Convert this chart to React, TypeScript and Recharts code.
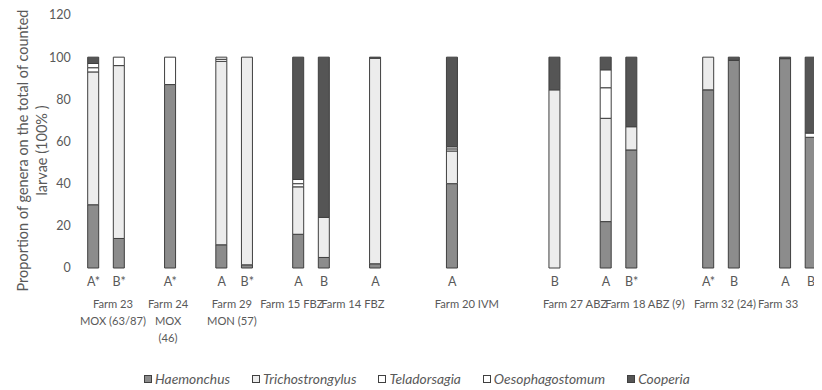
import React from "react";
import { BarChart, Bar, XAxis, YAxis, Legend } from "recharts";

// slot index -> sample label ("" = empty gap slot)
const slotLabels = ["A*", "B*", "", "A*", "", "A", "B*", "", "A", "B", "", "A", "", "", "A", "", "", "", "B", "", "A", "B*", "", "", "A*", "B", "", "A", "B"];

const haemonchus = [30, 14, null, 87, null, 11, 1.5, null, 16, 5, null, 2, null, null, 40, null, null, null, 0, null, 22, 56, null, null, 84.5, 98.5, null, 99.3, 62];
const trichostrongylus = [63, 82, null, 0, null, 87, 98.5, null, 22.5, 19, null, 97.5, null, null, 15.5, null, null, null, 84.5, null, 49, 11, null, null, 15.5, 0, null, 0, 0];
const teladorsagia = [2, 4, null, 13, null, 1, 0, null, 1.5, 0, null, 0, null, null, 1, null, null, null, 0, null, 14.5, 0, null, null, 0, 0, null, 0, 2];
const oesophagostomum = [2, 0, null, 0, null, 1, 0, null, 2, 0, null, 0, null, null, 1, null, null, null, 0, null, 8.5, 0, null, null, 0, 0, null, 0, 0];
const cooperia = [3, 0, null, 0, null, 0, 0, null, 58, 76, null, 0.5, null, null, 42.5, null, null, null, 15.5, null, 6, 33, null, null, 0, 1.5, null, 0.7, 36];

const farmLines = [
  ["Farm 23", "MOX (63/87)"],
  ["Farm 24", "MOX", "(46)"],
  ["Farm 29", "MON (57)"],
  ["Farm 15 FBZ"],
  ["Farm 14 FBZ"],
  ["Farm 20 IVM"],
  ["Farm 27 ABZ"],
  ["Farm 18 ABZ (9)"],
  ["Farm 32 (24)"],
  ["Farm 33"],
];
const farmTickSlots = [0.76, 2.91, 5.4, 7.74, 10.12, 14.57, 18.79, 21.52, 24.64, 26.72];

const yTicks = [0, 20, 40, 60, 80, 100, 120];
const yTitle = ["Proportion of genera on the total of counted", "larvae (100% )"];

const seriesNames = ["Haemonchus", "Trichostrongylus", "Teladorsagia", "Oesophagostomum", "Cooperia"];
const seriesValues = [haemonchus, trichostrongylus, teladorsagia, oesophagostomum, cooperia];
const seriesFill = ["#8c8c8c", "#ececec", "#ffffff", "#ffffff", "#555555"];

const data = slotLabels.map((label, i) => {
  const row: any = { slot: i, label };
  seriesNames.forEach((n, k) => {
    row[n] = seriesValues[k][i];
  });
  return row;
});

const labeledSlots = slotLabels.map((l, i) => (l ? i : -1)).filter((i) => i >= 0);

const FONT = "Lato, 'Open Sans', sans-serif";
const TEXT = "#595959";

const FarmTick = (props: any) => {
  const { x, y, payload } = props;
  const idx = farmTickSlots.indexOf(payload.value);
  const lines = farmLines[idx] || [];
  return (
    <text x={x} y={y} textAnchor="middle" fill={TEXT} fontSize={11.2} fontFamily={FONT}>
      {lines.map((l, k) => (
        <tspan key={k} x={x} dy={k === 0 ? "0.71em" : 17}>
          {l}
        </tspan>
      ))}
    </text>
  );
};

const YTitle = (props: any) => {
  const vb = props.viewBox || {};
  const cy = vb.y + vb.height / 2 + 9;
  const xs = [14, 33];
  return (
    <g>
      {yTitle.map((t, i) => (
        <text
          key={i}
          x={xs[i]}
          y={cy}
          transform={`rotate(-90, ${xs[i]}, ${cy})`}
          textAnchor="middle"
          dominantBaseline="central"
          fill={TEXT}
          fontSize={14.5}
          fontFamily={FONT}
        >
          {t}
        </text>
      ))}
    </g>
  );
};

const LegendContent = (props: any) => {
  const payload = [...(props.payload || [])].sort(
    (a: any, b: any) => seriesNames.indexOf(a.value) - seriesNames.indexOf(b.value)
  );
  return (
    <div
      style={{
        display: "flex",
        alignItems: "center",
        fontFamily: FONT,
        fontStyle: "italic",
        fontSize: 13.8,
        color: TEXT,
        whiteSpace: "nowrap",
      }}
    >
      {payload.map((e: any, i: number) => (
        <span key={i} style={{ display: "inline-flex", alignItems: "center", marginRight: 22 }}>
          <span
            style={{
              width: 6,
              height: 6,
              background: e.color,
              border: "1px solid #404040",
              marginRight: 3,
              display: "inline-block",
            }}
          />
          {e.value}
        </span>
      ))}
    </div>
  );
};

export default function App() {
  return (
    <BarChart
      width={814}
      height={382}
      data={data}
      margin={{ top: 7, right: 3.3, bottom: 0, left: 32.7 }}
      style={{ fontFamily: FONT }}
    >
      <XAxis
        dataKey="slot"
        type="number"
        domain={[-0.5, 28.3]}
        allowDataOverflow
        ticks={labeledSlots}
        interval={0}
        tickFormatter={(v: number) => slotLabels[v]}
        axisLine={false}
        tickLine={false}
        tickSize={6}
        tickMargin={3}
        height={24}
        tick={{ fill: TEXT, fontSize: 12.5, fontFamily: FONT }}
      />
      <XAxis
        xAxisId="farm"
        dataKey="slot"
        type="number"
        domain={[-0.5, 28.3]}
        allowDataOverflow
        ticks={farmTickSlots}
        interval={0}
        axisLine={false}
        tickLine={false}
        tickSize={0}
        tickMargin={8}
        height={98}
        tick={<FarmTick />}
      />
      <YAxis
        domain={[0, 120]}
        ticks={yTicks}
        interval={0}
        axisLine={false}
        tickLine={false}
        tickSize={6}
        tickMargin={4}
        width={40}
        tick={{ fill: TEXT, fontSize: 12.5, fontFamily: FONT }}
        label={{ content: <YTitle /> }}
      />
      <Legend
        layout="horizontal"
        verticalAlign="middle"
        align="center"
        content={<LegendContent />}
        wrapperStyle={{ left: 136, top: 362, width: "auto", height: 18 }}
      />
      {seriesNames.map((n, k) => (
        <Bar
          key={n}
          dataKey={n}
          name={n}
          stackId="s"
          fill={seriesFill[k]}
          stroke="#3f3f3f"
          strokeWidth={1}
          barSize={11}
          isAnimationActive={false}
        />
      ))}
    </BarChart>
  );
}
